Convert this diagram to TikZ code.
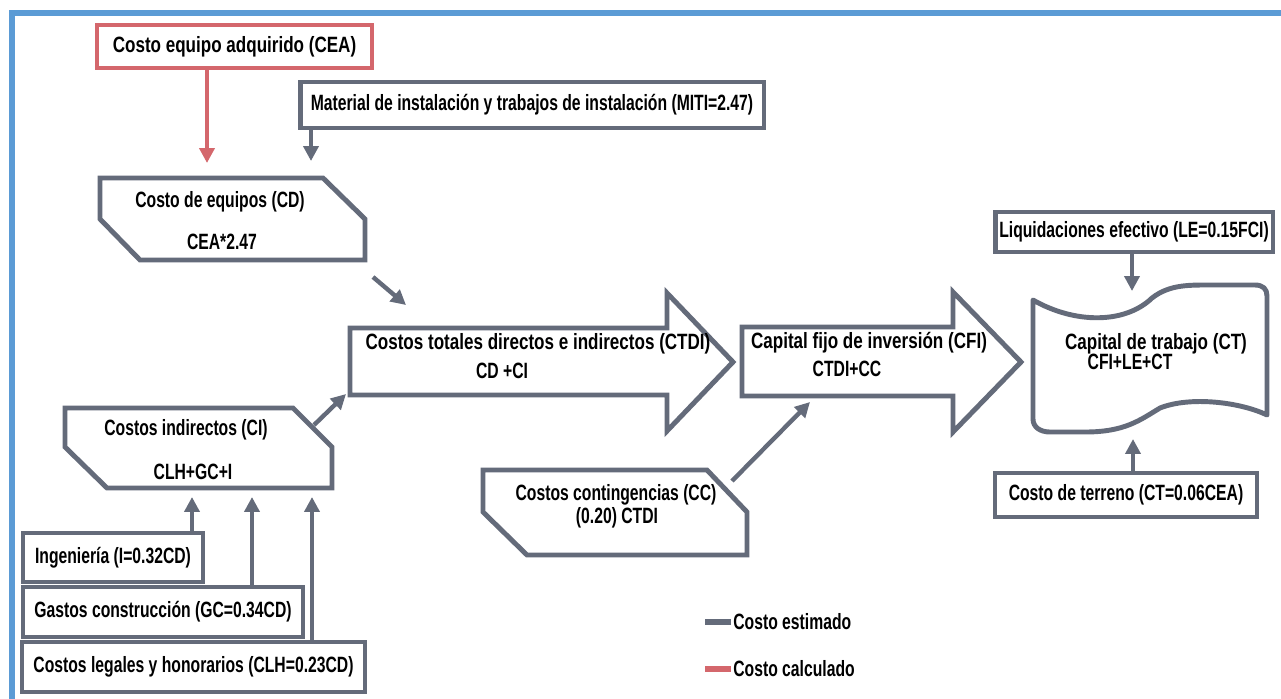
\documentclass[tikz,border=0pt]{standalone}
\usepackage{fontspec}
\setmainfont{Liberation Sans}[FakeStretch=0.71]
\newfontfamily\widesans{Liberation Sans}[FakeStretch=0.77]
\usetikzlibrary{arrows.meta}
\definecolor{slate}{HTML}{646B7A}
\definecolor{rosered}{HTML}{D4676C}
\definecolor{frameblue}{HTML}{5B9BD5}

\begin{document}
\begin{tikzpicture}[x=0.02cm,y=-0.02cm,
  shapeline/.style={draw=slate, line width=2.8pt, line join=miter, fill=white},
  rectbox/.style={shapeline, rectangle, inner sep=0pt},
  redbox/.style={rectbox, draw=rosered},
  lbl/.style={font=\fontsize{12.6}{14}\selectfont\bfseries, text=black, inner sep=0pt},
  lblwide/.style={lbl, font=\fontsize{12.6}{14}\selectfont\widesans\bfseries},
  flow/.style={draw=slate, line width=2.5pt, -{Triangle[width=8.5pt,length=8.5pt]}},
  redflow/.style={flow, draw=rosered},
  keyline/.style={line width=3pt},
]
\useasboundingbox (0,0) rectangle (1281,698);
\fill[white] (0,0) rectangle (1281,698);

% outer frame, running off the right and bottom edges
\begin{scope}
  \clip (0,0) rectangle (1281,698);
  \draw[frameblue, line width=3.6pt] (12,13) rectangle (1300,720);
\end{scope}

% ---------- rectangular input boxes ----------
\node[redbox, lblwide, minimum width=5.5cm, minimum height=0.86cm] (cea) at (234.5,46.5) {Costo equipo adquirido (CEA)};
\node[rectbox, lbl, minimum width=9.28cm, minimum height=0.92cm] (miti) at (532,105) {Material de instalación y trabajos de instalación (MITI=2.47)};
\node[rectbox, lbl, minimum width=5.56cm, minimum height=0.8cm] (le) at (1134,232) {Liquidaciones efectivo (LE=0.15FCI)};
\node[rectbox, lbl, minimum width=5.24cm, minimum height=0.88cm] (terr) at (1126,495) {Costo de terreno (CT=0.06CEA)};
\node[rectbox, lbl, minimum width=3.6cm, minimum height=0.98cm] (ing) at (113,557.5) {Ingeniería (I=0.32CD)};
\node[rectbox, lbl, minimum width=5.6cm, minimum height=1.0cm] (gc) at (163,612) {Gastos construcción (GC=0.34CD)};
\node[rectbox, lbl, minimum width=6.86cm, minimum height=1.0cm] (clh) at (193.5,667) {Costos legales y honorarios (CLH=0.23CD)};

% ---------- chamfered blocks ----------
\draw[shapeline] (100,178) -- (323,178) -- (365,219) -- (365,260) -- (140,260) -- (100,219) -- cycle;
\node[lbl] (cdt) at (220,202) {Costo de equipos (CD)};
\node[lbl] (cdv) at (222,242) {CEA*2.47};

\draw[shapeline] (65,408) -- (293,408) -- (332,447) -- (332,488) -- (107,488) -- (65,447) -- cycle;
\node[lbl] (cit) at (186,430) {Costos indirectos (CI)};
\node[lbl] (civ) at (193,472) {CLH+GC+I};

\draw[shapeline] (483,470) -- (707,470) -- (747,512) -- (747,555) -- (527,555) -- (483,512) -- cycle;
\node[lbl] (cct) at (616,495) {Costos contingencias (CC)};
\node[lbl] (ccv) at (617,518) {(0.20) CTDI};

% ---------- block arrows ----------
\draw[shapeline] (350,328) -- (667,328) -- (667,293) -- (733,362) -- (667,431) -- (667,395) -- (350,395) -- cycle;
\node[lblwide] (ctdit) at (538,344) {Costos totales directos e indirectos (CTDI)};
\node[lbl] (ctdiv) at (502,371) {CD +CI};

\draw[shapeline] (742,327) -- (953,327) -- (953,292) -- (1021,362) -- (953,432) -- (953,396) -- (742,396) -- cycle;
\node[lblwide] (cfit) at (869,343) {Capital fijo de inversión (CFI)};
\node[lbl] (cfiv) at (847,369) {CTDI+CC};

% ---------- punched tape block ----------
\draw[shapeline, line join=round]
  (1033,300) .. controls (1075,324) and (1125,324) .. (1152,298)
  .. controls (1170,284) and (1190,285) .. (1215,285) -- (1255,285)
  .. controls (1263,285) and (1267,289) .. (1267,296) -- (1267,415)
  .. controls (1240,402) and (1190,396) .. (1160,408)
  .. controls (1140,420) and (1125,432) .. (1085,432) -- (1050,432)
  .. controls (1040,432) and (1033,427) .. (1033,419) -- cycle;
\node[lblwide] (ctt) at (1156,344) {Capital de trabajo (CT)};
\node[lbl] (ctv) at (1130,362) {CFI+LE+CT};

% ---------- arrow end points ----------
\coordinate (cdinA) at (207,163);
\coordinate (cdinB) at (311,161);
\coordinate (cdout) at (373,277);
\coordinate (ctdiinA) at (406,305);
\coordinate (ciout) at (314,425);
\coordinate (ctdiinB) at (346,394);
\coordinate (ciinA) at (192,497);
\coordinate (ciinB) at (252,497);
\coordinate (ciinC) at (312,497);
\coordinate (ccout) at (732,481);
\coordinate (cfiin) at (810,402);
\coordinate (ctinA) at (1132,291);
\coordinate (ctinB) at (1133,439);

% ---------- connectors ----------
\draw[redflow] (cea.south -| cdinA) -- (cdinA);
\draw[flow] (miti.south -| cdinB) -- (cdinB);
\draw[flow] (cdout) -- (ctdiinA);
\draw[flow] (ciout) -- (ctdiinB);
\draw[flow] (ing.north -| ciinA) -- (ciinA);
\draw[flow] (gc.north -| ciinB) -- (ciinB);
\draw[flow] (clh.north -| ciinC) -- (ciinC);
\draw[flow] (ccout) -- (cfiin);
\draw[flow] (le.south -| ctinA) -- (ctinA);
\draw[flow] (terr.north -| ctinB) -- (ctinB);

% ---------- key ----------
\coordinate (kA1) at (705,622);
\coordinate (kA2) at (731,622);
\coordinate (kB1) at (705,669);
\coordinate (kB2) at (731,669);
\draw[keyline, slate] (kA1) -- (kA2);
\draw[keyline, rosered] (kB1) -- (kB2);
\node[lbl, anchor=west] (keyA) at (733,622) {Costo estimado};
\node[lbl, anchor=west] (keyB) at (733,669) {Costo calculado};
\end{tikzpicture}
\end{document}
